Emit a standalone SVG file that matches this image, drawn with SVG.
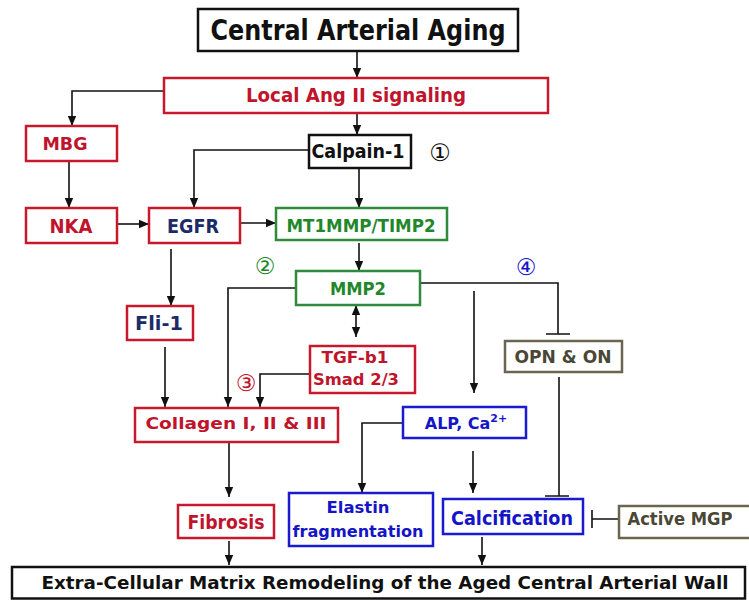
<svg xmlns="http://www.w3.org/2000/svg" width="749" height="600" viewBox="0 0 749 600">
<style>
text{font-family:"DejaVu Sans","Liberation Sans",sans-serif;text-anchor:middle;font-weight:bold}
.box{fill:#fff;stroke-width:2.5}
.k{stroke:#111}.r{stroke:#c8182c}.g{stroke:#2f8a3a}.b{stroke:#1a1ad2}.o{stroke:#6a6550}
.tk{fill:#111}.tr{fill:#c0142c}.tg{fill:#21872a}.tb{fill:#1515c8}.tn{fill:#1d2a6a}.to{fill:#4a4736}
.num{font-weight:normal}
.c{fill:none;stroke:#111;stroke-width:1.6}
</style>
<defs>
<marker id="ah" markerUnits="userSpaceOnUse" markerWidth="10" markerHeight="10" viewBox="0 0 10 10" refX="10" refY="5" orient="auto-start-reverse">
<path d="M0,0.8 L10,5 L0,9.2 z" fill="#111"/>
</marker>
</defs>
<rect width="749" height="600" fill="#fff"/>

<g id="connectors">
<path class="c" d="M357,51 V78" marker-end="url(#ah)"/>
<path class="c" d="M164,91 H72 V126" marker-end="url(#ah)"/>
<path class="c" d="M357,113 V135" marker-end="url(#ah)"/>
<path class="c" d="M309,150 H194 V208" marker-end="url(#ah)"/>
<path class="c" d="M359,168 V208" marker-end="url(#ah)"/>
<path class="c" d="M69,161 V208" marker-end="url(#ah)"/>
<path class="c" d="M117,224 H149" marker-end="url(#ah)"/>
<path class="c" d="M240,223 H276" marker-end="url(#ah)"/>
<path class="c" d="M171,249 V306" marker-end="url(#ah)"/>
<path class="c" d="M359,243 V271" marker-end="url(#ah)"/>
<path class="c" d="M296,288 H228 V407" marker-end="url(#ah)"/>
<path class="c" d="M420,283 H558 V334 M546,334 H570"/>
<path class="c" d="M474,291 V393" marker-end="url(#ah)"/>
<path class="c" d="M356,305 V337" marker-start="url(#ah)" marker-end="url(#ah)"/>
<path class="c" d="M310,374 H260 V407" marker-end="url(#ah)"/>
<path class="c" d="M165,347 V407" marker-end="url(#ah)"/>
<path class="c" d="M559,377 V496 M545,496 H569"/>
<path class="c" d="M229,442 V497" marker-end="url(#ah)"/>
<path class="c" d="M403,423 H362 V493" marker-end="url(#ah)"/>
<path class="c" d="M473,451 V493" marker-end="url(#ah)"/>
<path class="c" d="M619,519 H592 M592,510 V528"/>
<path class="c" d="M229,541 V565" marker-end="url(#ah)"/>
<path class="c" d="M482,537 V565" marker-end="url(#ah)"/>
</g>

<g id="title"><rect class="box k" x="198" y="9" width="320" height="42"/><text class="tk" x="358" y="40" font-size="28" textLength="295" lengthAdjust="spacingAndGlyphs">Central Arterial Aging</text></g>
<g id="localang"><rect class="box r" x="164" y="78" width="384" height="35"/><text class="tr" x="356" y="102" font-size="19" textLength="220" lengthAdjust="spacingAndGlyphs">Local Ang II signaling</text></g>
<g id="mbg"><rect class="box r" x="26" y="126" width="91" height="35"/><text class="tr" x="65" y="150" font-size="18" textLength="45" lengthAdjust="spacingAndGlyphs">MBG</text></g>
<g id="calpain"><rect class="box k" x="309" y="135" width="102" height="33"/><text class="tk" x="358" y="158" font-size="20" textLength="93" lengthAdjust="spacingAndGlyphs">Calpain-1</text></g>
<g id="n1"><text class="tk num" x="440" y="161" font-size="24">①</text></g>
<g id="nka"><rect class="box r" x="26" y="208" width="91" height="35"/><text class="tr" x="71" y="233" font-size="19" textLength="43" lengthAdjust="spacingAndGlyphs">NKA</text></g>
<g id="egfr"><rect class="box r" x="149" y="208" width="91" height="35"/><text class="tn" x="193" y="233" font-size="19" textLength="52" lengthAdjust="spacingAndGlyphs">EGFR</text></g>
<g id="mt1mmp"><rect class="box g" x="276" y="208" width="171" height="32"/><text class="tg" x="361" y="232" font-size="17" textLength="149" lengthAdjust="spacingAndGlyphs">MT1MMP/TIMP2</text></g>
<g id="n2"><text class="tg num" x="265" y="274" font-size="23">②</text></g>
<g id="mmp2"><rect class="box g" x="296" y="271" width="124" height="34"/><text class="tg" x="358" y="295" font-size="18" textLength="56" lengthAdjust="spacingAndGlyphs">MMP2</text></g>
<g id="n4"><text class="tb num" x="526" y="275" font-size="23">④</text></g>
<g id="fli1"><rect class="box r" x="127" y="306" width="66" height="34"/><text class="tn" x="159" y="330" font-size="19" textLength="48" lengthAdjust="spacingAndGlyphs">Fli-1</text></g>
<g id="tgf"><rect class="box r" x="310" y="346" width="105" height="47"/><text class="tr" x="355" y="363" font-size="16" textLength="67" lengthAdjust="spacingAndGlyphs">TGF-b1</text><text class="tr" x="356" y="385" font-size="16" textLength="86" lengthAdjust="spacingAndGlyphs">Smad 2/3</text></g>
<g id="opn"><rect class="box o" x="505" y="341" width="117" height="31"/><text class="to" x="563" y="363" font-size="17" textLength="97" lengthAdjust="spacingAndGlyphs">OPN &amp; ON</text></g>
<g id="n3"><text class="tr num" x="246" y="391" font-size="23">③</text></g>
<g id="collagen"><rect class="box r" x="135" y="408" width="203" height="34"/><text class="tr" x="236" y="429" font-size="16" textLength="181" lengthAdjust="spacingAndGlyphs">Collagen I, II &amp; III</text></g>
<g id="alp"><rect class="box b" x="403" y="407" width="123" height="31"/><text class="tb" x="466" y="429" font-size="16">ALP, Ca<tspan font-size="11" dy="-7">2+</tspan></text></g>
<g id="fibrosis"><rect class="box r" x="178" y="505" width="96" height="33"/><text class="tr" x="226" y="529" font-size="20" textLength="77" lengthAdjust="spacingAndGlyphs">Fibrosis</text></g>
<g id="elastin"><rect class="box b" x="289" y="493" width="144" height="53"/><text class="tb" x="358" y="513" font-size="16" textLength="63" lengthAdjust="spacingAndGlyphs">Elastin</text><text class="tb" x="358" y="537" font-size="16" textLength="131" lengthAdjust="spacingAndGlyphs">fragmentation</text></g>
<g id="calcification"><rect class="box b" x="443" y="499" width="140" height="35"/><text class="tb" x="512" y="525" font-size="20" textLength="122" lengthAdjust="spacingAndGlyphs">Calcification</text></g>
<g id="mgp"><rect class="box o" x="619" y="506" width="135" height="32"/><text class="to" x="680" y="525" font-size="17" textLength="105" lengthAdjust="spacingAndGlyphs">Active MGP</text></g>
<g id="ecm"><rect class="box k" x="12" y="567" width="733" height="31.5"/><text class="tk" x="385" y="589" font-size="18" textLength="687" lengthAdjust="spacingAndGlyphs">Extra-Cellular Matrix Remodeling of the Aged Central Arterial Wall</text></g>
</svg>
